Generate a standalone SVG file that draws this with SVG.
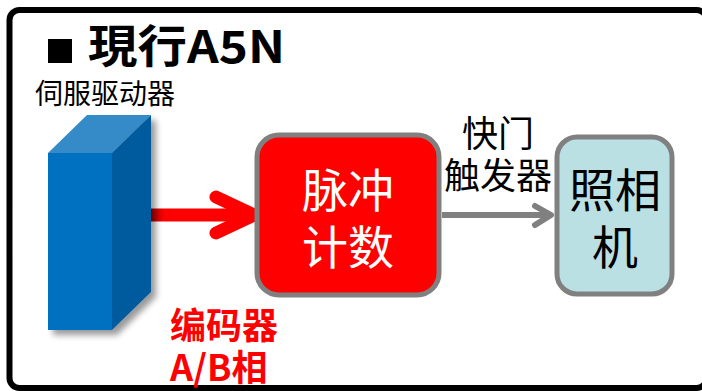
<svg xmlns="http://www.w3.org/2000/svg" width="702" height="391" viewBox="0 0 702 391">
  <defs>
    <style>
      .cjk { font-family: "Noto Sans CJK SC", "Noto Sans", sans-serif; }
      .box { stroke: #808080; stroke-width: 5; }
      .big { font-size: 46px; text-anchor: middle; }
    </style>
    <filter id="shadow" x="-30%" y="-20%" width="160%" height="140%">
      <feGaussianBlur in="SourceAlpha" stdDeviation="3"/>
      <feOffset dx="5" dy="5" result="b"/>
      <feComponentTransfer><feFuncA type="linear" slope="0.4"/></feComponentTransfer>
      <feMerge><feMergeNode/><feMergeNode in="SourceGraphic"/></feMerge>
    </filter>
    <linearGradient id="redLine" gradientUnits="userSpaceOnUse" x1="150" y1="0" x2="250" y2="0">
      <stop offset="0" stop-color="#b00000"/>
      <stop offset="0.15" stop-color="#ff0000"/>
      <stop offset="1" stop-color="#ff0000"/>
    </linearGradient>
  </defs>

  <rect width="702" height="391" fill="#ffffff"/>

  <!-- outer frame -->
  <rect x="9.5" y="10" width="697" height="378" rx="10" fill="none" stroke="#000000" stroke-width="6"/>

  <!-- title -->
  <g id="title">
    <rect x="48" y="39" width="24" height="24" fill="#000000"/>
    <text class="cjk" x="88" y="63" font-size="45" font-weight="bold" fill="#000000" textLength="197" lengthAdjust="spacingAndGlyphs">現行A5N</text>
  </g>

  <!-- connectors -->
  <g id="connectors" fill="none" stroke-linecap="round" stroke-linejoin="round">
    <line x1="150" y1="215" x2="250" y2="215" stroke="url(#redLine)" stroke-width="13" stroke-linecap="butt"/>
    <polyline points="216,197 254,215 216,233" stroke="#ff0000" stroke-width="13"/>
    <line x1="442" y1="215" x2="550" y2="215" stroke="#808080" stroke-width="6" stroke-linecap="butt"/>
    <polyline points="535,206 551,215 535,225" stroke="#808080" stroke-width="6"/>
  </g>

  <!-- servo drive block -->
  <g id="servo">
    <g filter="url(#shadow)">
      <polygon points="48,153 112,153 112,330 48,330" fill="#0070c0"/>
      <polygon points="48,153 87,115 151,115 112,153" fill="#368ac8"/>
      <polygon points="112,153 151,115 151,292 112,330" fill="#005a9e"/>
    </g>
    <text class="cjk" x="35" y="104" font-size="28" fill="#000000">伺服驱动器</text>
  </g>

  <!-- encoder label -->
  <g id="encoder-label" class="cjk" font-weight="bold" font-size="36" fill="#ff0000">
    <text x="170" y="339">编码器</text>
    <text x="170" y="381">A/B相</text>
  </g>

  <!-- pulse counter -->
  <g id="pulse-counter">
    <rect class="box" x="257" y="135" width="182" height="160" rx="22" fill="#ff0000"/>
    <text class="cjk big" x="348" y="207" fill="#ffffff">脉冲</text>
    <text class="cjk big" x="348" y="264" fill="#ffffff">计数</text>
  </g>

  <!-- shutter trigger label -->
  <g id="trigger-label" class="cjk" font-size="36" fill="#000000" text-anchor="middle">
    <text x="498" y="147">快门</text>
    <text x="498" y="189">触发器</text>
  </g>

  <!-- camera -->
  <g id="camera">
    <rect class="box" x="557" y="137" width="115" height="157" rx="20" fill="#bbe0e3"/>
    <text class="cjk big" x="615" y="207" fill="#000000">照相</text>
    <text class="cjk big" x="615" y="264" fill="#000000">机</text>
  </g>
</svg>
